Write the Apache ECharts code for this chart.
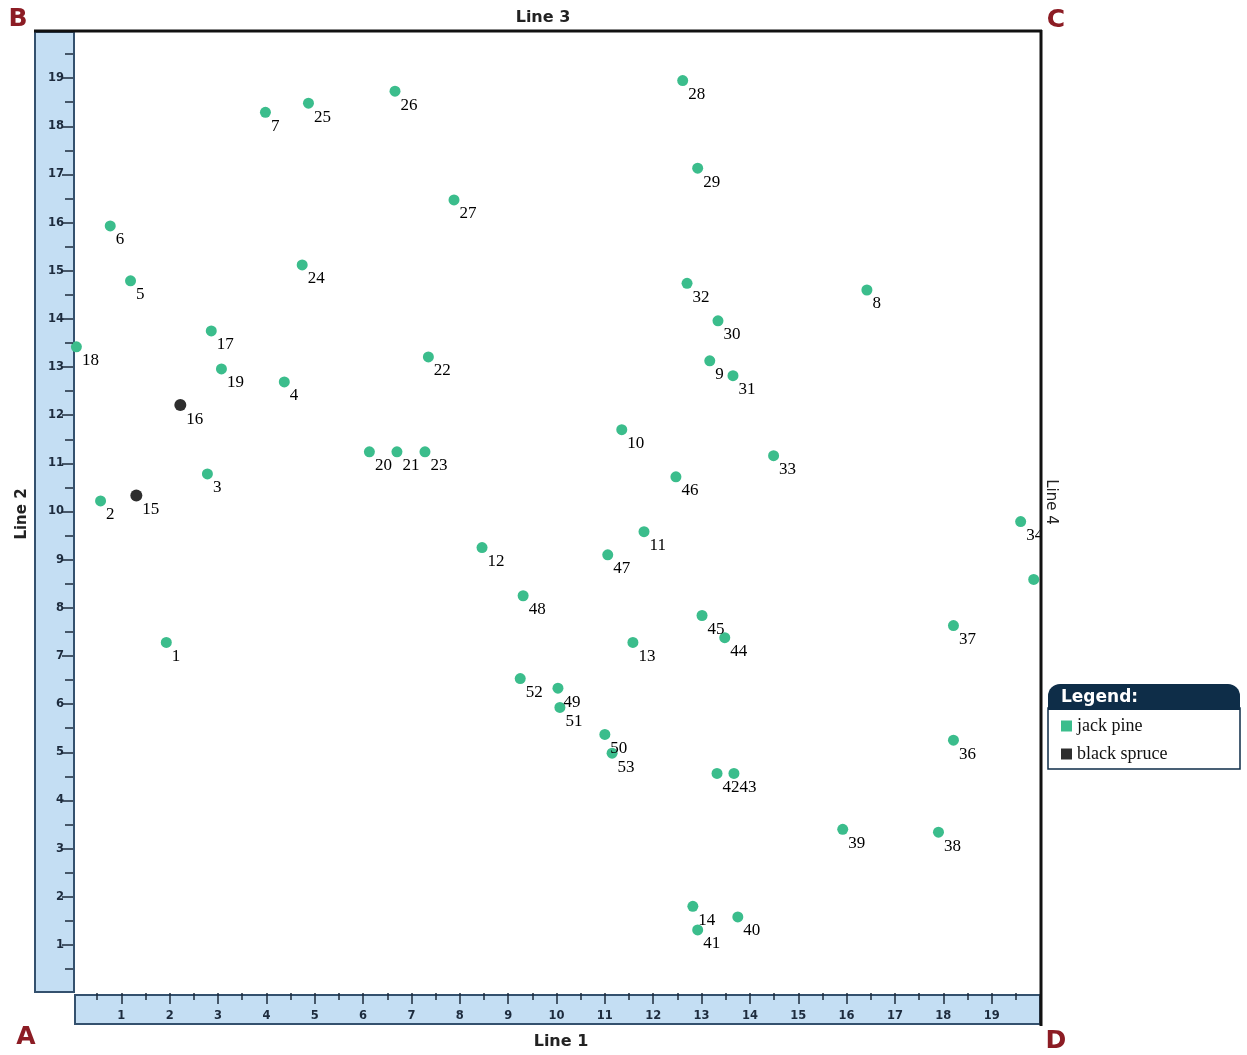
<!DOCTYPE html>
<html>
<head>
<meta charset="utf-8">
<script src="https://cdn.jsdelivr.net/npm/echarts@6/dist/echarts.min.js"></script>
<style>html,body{margin:0;padding:0;background:#fff;}#chart{width:1247px;height:1055px;}</style>
</head>
<body>
<div id="chart"></div>
<script>
// ---- data ----
const pineIds = ['1','2','3','4','5','6','7','8','9','10','11','12','13','14','17','18','19','20','21','22','23','24','25','26','27','28','29','30','31','32','33','34','35','36','37','38','39','40','41','42','43','44','45','46','47','48','49','50','51','52','53'];
const pineX = [1.93,0.57,2.78,4.37,1.19,0.77,3.98,16.42,13.17,11.35,11.81,8.46,11.58,12.82,2.86,0.07,3.07,6.13,6.70,7.35,7.28,4.74,4.87,6.66,7.88,12.61,12.92,13.34,13.65,12.70,14.49,19.60,19.87,18.21,18.21,17.90,15.92,13.75,12.92,13.32,13.67,13.48,13.01,12.47,11.06,9.31,10.03,11.00,10.07,9.25,11.15];
const pineY = [7.28,10.22,10.78,12.69,14.79,15.93,18.29,14.60,13.13,11.70,9.58,9.25,7.28,1.80,13.75,13.42,12.96,11.24,11.24,13.21,11.24,15.12,18.48,18.73,16.47,18.95,17.13,13.96,12.82,14.74,11.16,9.79,8.59,5.25,7.63,3.34,3.40,1.58,1.31,4.56,4.56,7.38,7.84,10.72,9.10,8.25,6.33,5.37,5.93,6.53,4.98];
const spruceIds = ['15','16'];
const spruceX = [1.31,2.22];
const spruceY = [10.33,12.21];
const majorTicks = [1,2,3,4,5,6,7,8,9,10,11,12,13,14,15,16,17,18,19];
const minorTicks = [0.5,1.5,2.5,3.5,4.5,5.5,6.5,7.5,8.5,9.5,10.5,11.5,12.5,13.5,14.5,15.5,16.5,17.5,18.5,19.5];
const seriesNames = ['jack pine','black spruce'];
const axisTitles = ['Line 1','Line 2','Line 3','Line 4'];
const cornerLabels = ['A','B','C','D'];

const pineColor = '#3bbd8c', spruceColor = '#2e2e2e';
const stripFill = '#c4def3', stripStroke = '#34516e', tickColor = '#1d2b3d';
const labelFont = '"Liberation Serif", serif';
const sansFont = '"DejaVu Sans", sans-serif';

function pts(xs, ys, ids) { return xs.map((x, i) => ({ value: [x, ys[i]], name: ids[i] })); }

const chart = echarts.init(document.getElementById('chart'));
const tickLabelStyle = { color: tickColor, fontFamily: sansFont, fontWeight: 'bold', fontSize: 11.5 };
const ptLabel = { show: true, position: 'right', distance: 0, offset: [0, 14], formatter: p => p.name,
                  fontFamily: labelFont, fontSize: 17, color: '#000' };

const option = {
  animation: false,
  grid: { left: 73, top: 30, width: 967, height: 963 },
  xAxis: [
    { type: 'value', min: 0, max: 20, interval: 1, position: 'bottom', offset: 5, z: 5,
      axisLine: { show: false }, splitLine: { show: false },
      axisTick: { show: true, length: 11, customValues: majorTicks, lineStyle: { color: tickColor, width: 1.5 } },
      axisLabel: { show: true, margin: 12, customValues: majorTicks, ...tickLabelStyle } },
    { type: 'value', min: 0, max: 20, interval: 1, position: 'bottom', offset: 5, z: 5,
      axisLine: { show: false }, splitLine: { show: false },
      axisTick: { show: true, length: 7, customValues: minorTicks, lineStyle: { color: tickColor, width: 1.5 } },
      axisLabel: { show: false } }
  ],
  yAxis: [
    { type: 'value', min: 0, max: 20, interval: 1, position: 'left', offset: 1, z: 5,
      axisLine: { show: false }, splitLine: { show: false },
      axisTick: { show: true, length: 11, customValues: majorTicks, lineStyle: { color: tickColor, width: 1.5 } },
      axisLabel: { show: true, margin: 8, customValues: majorTicks, ...tickLabelStyle } },
    { type: 'value', min: 0, max: 20, interval: 1, position: 'left', offset: 1, z: 5,
      axisLine: { show: false }, splitLine: { show: false },
      axisTick: { show: true, length: 8, customValues: minorTicks, lineStyle: { color: tickColor, width: 1.5 } },
      axisLabel: { show: false } }
  ],
  legend: {
    data: seriesNames, orient: 'vertical', left: 1056, top: 712, icon: 'rect',
    itemWidth: 11, itemHeight: 11, itemGap: 10,
    textStyle: { fontFamily: labelFont, fontSize: 18, color: '#111', lineHeight: 18 }
  },
  series: [
    { name: seriesNames[0], type: 'scatter', symbolSize: 11, z: 3,
      itemStyle: { color: pineColor, opacity: 1 }, data: pts(pineX, pineY, pineIds), label: ptLabel },
    { name: seriesNames[1], type: 'scatter', symbolSize: 12, z: 3,
      itemStyle: { color: spruceColor, opacity: 1 }, data: pts(spruceX, spruceY, spruceIds), label: ptLabel }
  ],
  graphic: [
    // axis strips
    { type: 'rect', z: 1, shape: { x: 35, y: 32, width: 39, height: 960 }, style: { fill: stripFill, stroke: stripStroke, lineWidth: 2 } },
    { type: 'rect', z: 1, shape: { x: 75, y: 995, width: 965, height: 29 }, style: { fill: stripFill, stroke: stripStroke, lineWidth: 2 } },
    // clip area right of plot
    { type: 'rect', z: 100, shape: { x: 1042, y: 505, width: 45, height: 120 }, style: { fill: '#fff' } },
    // frame lines
    { type: 'line', z: 101, shape: { x1: 34, y1: 31, x2: 1042, y2: 31 }, style: { stroke: '#111', lineWidth: 3 } },
    { type: 'line', z: 101, shape: { x1: 1041, y1: 30, x2: 1041, y2: 1026 }, style: { stroke: '#111', lineWidth: 3 } },
    // axis titles
    { type: 'text', z: 102, x: 543, y: 18, style: { text: axisTitles[2], font: '600 16px ' + sansFont, fill: '#222', align: 'center', verticalAlign: 'middle' } },
    { type: 'text', z: 102, x: 561, y: 1042, style: { text: axisTitles[0], font: '600 16px ' + sansFont, fill: '#222', align: 'center', verticalAlign: 'middle' } },
    { type: 'text', z: 102, x: 22, y: 514, rotation: Math.PI / 2, style: { text: axisTitles[1], font: '600 15px ' + sansFont, fill: '#222', align: 'center', verticalAlign: 'middle' } },
    { type: 'text', z: 102, x: 1051, y: 502, rotation: -Math.PI / 2, style: { text: axisTitles[3], font: '15px ' + sansFont, fill: '#222', align: 'center', verticalAlign: 'middle' } },
    // corner letters
    { type: 'text', z: 102, x: 26, y: 1037, style: { text: cornerLabels[0], font: '600 25px ' + sansFont, fill: '#8c1c24', align: 'center', verticalAlign: 'middle' } },
    { type: 'text', z: 102, x: 18, y: 19, style: { text: cornerLabels[1], font: '600 25px ' + sansFont, fill: '#8c1c24', align: 'center', verticalAlign: 'middle' } },
    { type: 'text', z: 102, x: 1056, y: 20, style: { text: cornerLabels[2], font: '600 25px ' + sansFont, fill: '#8c1c24', align: 'center', verticalAlign: 'middle' } },
    { type: 'text', z: 102, x: 1056, y: 1041, style: { text: cornerLabels[3], font: '600 25px ' + sansFont, fill: '#8c1c24', align: 'center', verticalAlign: 'middle' } },
    // legend box
    { type: 'rect', z: 0, shape: { x: 1048, y: 708, width: 192, height: 61 }, style: { fill: '#fff', stroke: '#0e2d48', lineWidth: 1.5 } },
    { type: 'rect', z: 1, shape: { x: 1048, y: 684, width: 192, height: 26, r: [12, 12, 0, 0] }, style: { fill: '#0e2d48' } },
    { type: 'text', z: 2, x: 1061, y: 698, style: { text: 'Legend:', font: 'bold 17px ' + sansFont, fill: '#fff', verticalAlign: 'middle' } }
  ]
};
chart.setOption(option);
</script>
</body>
</html>
